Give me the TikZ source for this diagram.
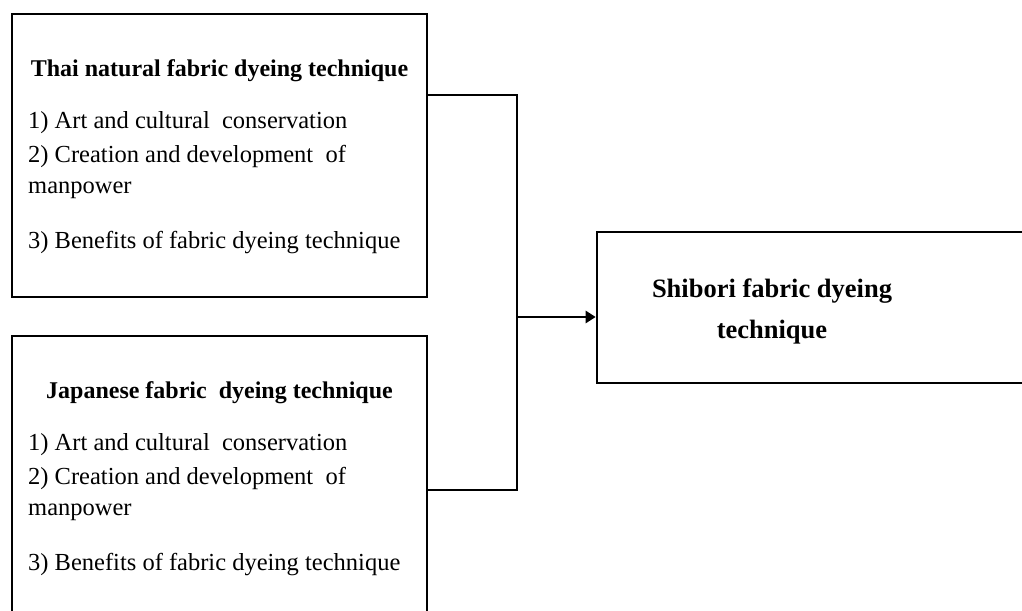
\documentclass[tikz,border=0pt]{standalone}
\usepackage{fontspec}
\setmainfont{Liberation Serif}
\usetikzlibrary{arrows.meta}
\tikzset{
  x=1pt, y=-1pt,
  frame/.style={draw=black, line width=2.6pt, inner sep=0pt, rectangle},
  title/.style={anchor=base, inner sep=0pt, font=\fontsize{24}{28}\selectfont\bfseries},
  item/.style={anchor=base west, inner sep=0pt, font=\fontsize{24.5}{28}\selectfont},
  big/.style={anchor=base, inner sep=0pt, font=\fontsize{26.5}{32}\selectfont\bfseries},
  link/.style={draw=black, line width=2.4pt},
}
\begin{document}
\begin{tikzpicture}
\useasboundingbox (0,0) rectangle (1022,610);
\clip (0,0) rectangle (1022,610);
% boxes
\node[frame, minimum width=415pt, minimum height=283pt] (b1) at (219.5,155.5) {};
\node[frame, minimum width=415pt, minimum height=304pt] (b2) at (219.5,488) {};
\node[frame, minimum width=443pt, minimum height=151pt] (b3) at (818.5,307.5) {};
% box 1 text
\node[title] (t1) at (219.5,76) {Thai natural fabric dyeing technique};
\node[item] (t1a) at (28,128) {1) Art and cultural \ conservation};
\node[item] (t1b) at (28,162) {2) Creation and development \ of};
\node[item] (t1c) at (28,193) {manpower};
\node[item] (t1d) at (28,248) {3) Benefits of fabric dyeing technique};
% box 2 text
\node[title] (t2) at (219.5,398) {Japanese fabric \ dyeing technique};
\node[item] (t2a) at (28,450) {1) Art and cultural \ conservation};
\node[item] (t2b) at (28,484) {2) Creation and development \ of};
\node[item] (t2c) at (28,515) {manpower};
\node[item] (t2d) at (28,570) {3) Benefits of fabric dyeing technique};
% box 3 text
\node[big] (t3a) at (772,297) {Shibori fabric dyeing};
\node[big] (t3b) at (772,338) {technique};
% connectors
\coordinate (j1) at (517,95);
\coordinate (j2) at (517,490);
\coordinate (jm) at (517,317);
\draw[link] (b1.east |- j1) -- (j1) -- (j2) -- (b2.east |- j2);
\draw[link, -{Triangle[length=10pt,width=12pt]}] (jm) -- (b3.west |- jm);
\end{tikzpicture}
\end{document}
